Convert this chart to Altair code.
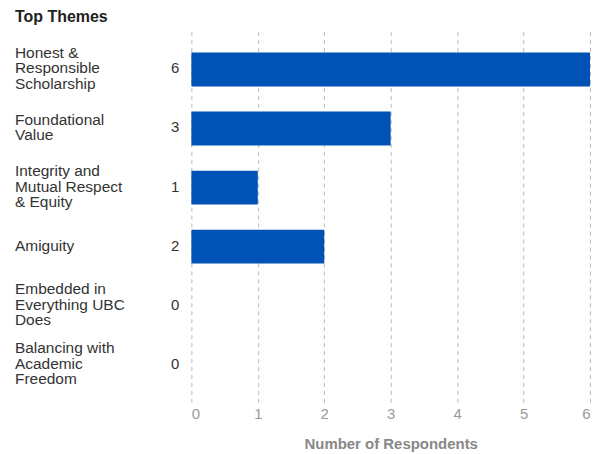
import altair as alt
import pandas as pd

themes = [
    "Honest &|Responsible|Scholarship",
    "Foundational|Value",
    "Integrity and|Mutual Respect|& Equity",
    "Amiguity",
    "Embedded in|Everything UBC|Does",
    "Balancing with|Academic|Freedom",
]
respondents = [6, 3, 1, 2, 0, 0]
x_ticks = [0, 1, 2, 3, 4, 5, 6]

df = pd.DataFrame({"theme": themes, "n": respondents})
df["lines"] = [t.count("|") + 1 for t in themes]

FONT = "Liberation Sans"
LH = 15.5

y_enc = alt.Y(
    "theme:N",
    sort=themes,
    scale=alt.Scale(paddingInner=0.427, paddingOuter=0.354),
    axis=None,
)

bars = alt.Chart(df).mark_bar(color="#0052B4").encode(
    x=alt.X(
        "n:Q",
        scale=alt.Scale(domain=[0, 6], nice=False),
        axis=alt.Axis(
            values=x_ticks,
            title="Number of Respondents",
            titleFont=FONT,
            titleFontSize=15,
            titleFontWeight="bold",
            titleColor="#888888",
            titlePadding=15,
            labelFont=FONT,
            labelFontSize=15,
            labelColor="#999999",
            labelPadding=4,
            ticks=False,
            domain=False,
            grid=True,
            gridDash=[4, 4],
            gridColor="#bbbbbb",
            gridWidth=1,
            format="d",
        ),
    ),
    y=y_enc,
)

vals = alt.Chart(df).mark_text(
    align="right", baseline="middle", font=FONT, fontSize=15, color="#333333", dy=-1
).encode(
    x=alt.value(-12),
    y=alt.Y("theme:N", sort=themes),
    text=alt.Text("n:Q", format="d"),
)


def cat_layer(nlines):
    return (
        alt.Chart(df)
        .transform_filter(alt.datum.lines == nlines)
        .mark_text(
            align="left",
            baseline="middle",
            font=FONT,
            fontSize=15.5,
            lineHeight=LH,
            lineBreak="|",
            color="#333333",
            dy=-(nlines - 1) * LH / 2 - 1,
        )
        .encode(
            x=alt.value(-177),
            y=alt.Y("theme:N", sort=themes),
            text="theme:N",
        )
    )


chart = (
    alt.layer(bars, vals, cat_layer(1), cat_layer(2), cat_layer(3))
    .properties(
        width=400,
        height=372,
        padding={"left": 7, "top": 0, "right": 2, "bottom": 2},
        title=alt.TitleParams(
            "Top Themes",
            anchor="start",
            font=FONT,
            fontSize=16,
            fontWeight="bold",
            color="#222222",
            offset=7,
        ),
    )
    .configure_view(stroke=None)
)

chart.save("out.html", embed_options={"renderer": "svg", "actions": False})
